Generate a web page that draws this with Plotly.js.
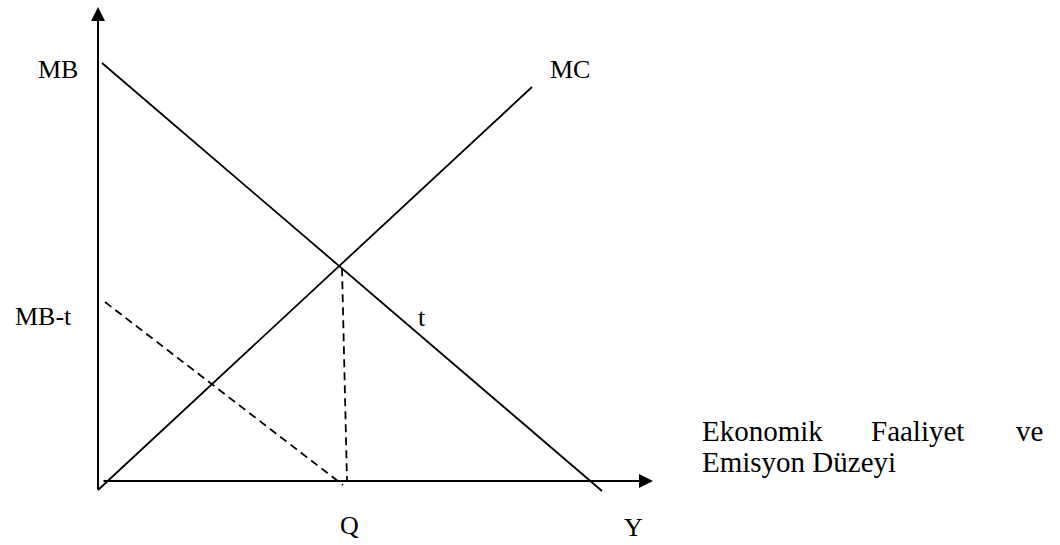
<!DOCTYPE html>
<html>
<head>
<meta charset="utf-8">
<script src="https://cdn.plot.ly/plotly-3.0.1.min.js"></script>
<style>html,body{margin:0;padding:0;background:#fff;}#chart{width:1060px;height:545px;}</style>
</head>
<body>
<div id="chart"></div>
<script>
// Curve data (quantity on x, price/cost on y)
const mbX = [0.8, 100.8];
const mbY = [104.5, -2.5];
const mcX = [0, 86.8];
const mcY = [-2.25, 98.5];
const mbtX = [1.4, 49];
const mbtY = [44.75, -1];
const qX = [48.8, 49.8];
const qY = [53.2, 0];
// axis extents
const yAxisX = [0, 0];
const yAxisY = [-2.5, 118.5];
const xAxisX = [0.8, 111];
const xAxisY = [0, 0];
// labels
const curveLabels = ['MB', 'MC', 'MB-t', 't', 'Q', 'Y'];
const noteLine1 = ['Ekonomik', 'Faaliyet', 've'];
const noteLine2 = 'Emisyon Düzeyi';

const serif = 'Liberation Serif, Times New Roman, serif';
const font = {family: serif, size: 26, color: '#000'};
const noteFont = {family: serif, size: 29, color: '#000'};
const solid = {color: '#000', width: 1.8};
const dashed = {color: '#000', width: 1.8, dash: '8px,5px'};

const traces = [
  {x: mbX, y: mbY, mode: 'lines', line: solid, hoverinfo: 'skip'},
  {x: mcX, y: mcY, mode: 'lines', line: solid, hoverinfo: 'skip'},
  {x: mbtX, y: mbtY, mode: 'lines', line: dashed, hoverinfo: 'skip'},
  {x: qX, y: qY, mode: 'lines', line: dashed, hoverinfo: 'skip'}
];

function lab(text, x, y, xanchor, f) {
  return {text: text, x: x, y: y, xref: 'x', yref: 'y', showarrow: false,
    xanchor: xanchor || 'center', yanchor: 'middle', font: f || font};
}
function axisArrow(x0, y0, x1, y1) {
  return {x: x1, y: y1, ax: x0, ay: y0, xref: 'x', yref: 'y', axref: 'x', ayref: 'y',
    text: '', showarrow: true, arrowhead: 2, arrowsize: 1.4, arrowwidth: 2, arrowcolor: '#000'};
}

const annotations = [
  axisArrow(yAxisX[0], yAxisY[0], yAxisX[1], yAxisY[1]),
  axisArrow(xAxisX[0], xAxisY[0], xAxisX[1], xAxisY[1]),
  lab(curveLabels[0], -8, 103),
  lab(curveLabels[1], 94.4, 103),
  lab(curveLabels[2], -11, 41.25),
  lab(curveLabels[3], 64.8, 41),
  lab(curveLabels[4], 50.2, -11),
  lab(curveLabels[5], 107, -11.5),
  lab(noteLine1[0], 120.4, 12.5, 'left', noteFont),
  lab(noteLine1[1], 163.8, 12.5, 'center', noteFont),
  lab(noteLine1[2], 189.4, 12.5, 'right', noteFont),
  lab(noteLine2, 120.4, 4.75, 'left', noteFont)
];

const layout = {
  width: 1060, height: 545,
  margin: {l: 0, r: 0, t: 0, b: 0, pad: 0},
  paper_bgcolor: '#fff', plot_bgcolor: '#fff',
  showlegend: false,
  xaxis: {range: [-19.6, 192.4], visible: false, fixedrange: true},
  yaxis: {range: [-16, 120.25], visible: false, fixedrange: true},
  annotations: annotations
};

Plotly.newPlot('chart', traces, layout, {displayModeBar: false, staticPlot: true});
</script>
</body>
</html>
